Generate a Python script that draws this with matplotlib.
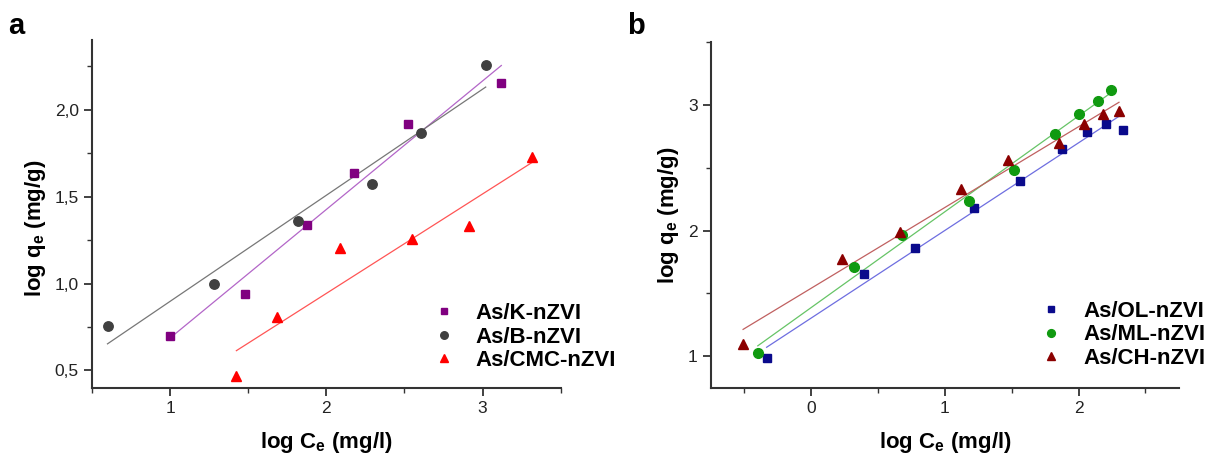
import numpy as np
import matplotlib.pyplot as plt
from matplotlib.ticker import MultipleLocator, FuncFormatter

plt.rcParams['font.family'] = ['Liberation Sans', 'DejaVu Sans']
plt.rcParams['mathtext.fontset'] = 'custom'
plt.rcParams['mathtext.rm'] = 'Liberation Sans'
plt.rcParams['mathtext.bf'] = 'Liberation Sans:bold'

# panel a data (log Ce, log qe)
k_x = [1.00, 1.48, 1.873, 2.178, 2.52, 3.12]
k_y = [0.698, 0.94, 1.335, 1.637, 1.92, 2.156]
b_x = [0.599, 1.282, 1.82, 2.29, 2.606, 3.02]
b_y = [0.758, 1.00, 1.358, 1.575, 1.867, 2.258]
cmc_x = [1.424, 1.685, 2.089, 2.551, 2.916, 3.315]
cmc_y = [0.467, 0.81, 1.204, 1.256, 1.329, 1.727]

# panel b data
ol_x = [-0.333, 0.394, 0.776, 1.216, 1.56, 1.874, 2.063, 2.207, 2.33]
ol_y = [0.984, 1.653, 1.862, 2.182, 2.394, 2.654, 2.789, 2.849, 2.804]
ml_x = [-0.399, 0.319, 0.681, 1.184, 1.514, 1.825, 2.006, 2.144, 2.244]
ml_y = [1.029, 1.713, 1.963, 2.239, 2.482, 2.768, 2.931, 3.032, 3.119]
ch_x = [-0.509, 0.23, 0.664, 1.121, 1.474, 1.853, 2.043, 2.184, 2.302]
ch_y = [1.098, 1.774, 1.987, 2.329, 2.564, 2.701, 2.847, 2.929, 2.952]

labels_a = ['As/K-nZVI', 'As/B-nZVI', 'As/CMC-nZVI']
labels_b = ['As/OL-nZVI', 'As/ML-nZVI', 'As/CH-nZVI']


def series(ax, x, y, marker, ms, mcolor, lcolor, label):
    ax.plot(x, y, linestyle='none', marker=marker, ms=ms, color=mcolor,
            mec=mcolor, label=label, zorder=3)
    # linear fit line over the data range
    p = np.polyfit(x, y, 1)
    xs = np.array([min(x), max(x)])
    ax.plot(xs, np.polyval(p, xs), color=lcolor, lw=0.9, zorder=2)


def style(ax):
    for s in ['top', 'right']:
        ax.spines[s].set_visible(False)
    for s in ['left', 'bottom']:
        ax.spines[s].set_linewidth(1.5)
        ax.spines[s].set_color('#333333')
    ax.tick_params(which='major', direction='out', length=6, width=1.3,
                   color='#333333', labelsize=12.5, labelcolor='#222222')
    ax.tick_params(which='minor', direction='out', length=3.5, width=1.0,
                   color='#333333')


fig = plt.figure(figsize=(12.11, 4.54), dpi=100)
ax1 = fig.add_axes([0.076, 0.146, 0.387, 0.765])
ax2 = fig.add_axes([0.587, 0.146, 0.3865, 0.761])

series(ax1, k_x, k_y, 's', 6, '#800080', '#b366c8', labels_a[0])
series(ax1, b_x, b_y, 'o', 6.8, '#404040', '#777777', labels_a[1])
series(ax1, cmc_x, cmc_y, '^', 7.5, '#ff0000', '#ff5555', labels_a[2])

series(ax2, ol_x, ol_y, 's', 6, '#0a0a8c', '#6e6ee0', labels_b[0])
series(ax2, ml_x, ml_y, 'o', 7, '#109a10', '#66c466', labels_b[1])
series(ax2, ch_x, ch_y, '^', 7.8, '#8b0000', '#c06060', labels_b[2])

ax1.set_xlim(0.5, 3.5)
ax1.set_ylim(0.4, 2.4)
ax1.xaxis.set_major_locator(MultipleLocator(1))
ax1.xaxis.set_minor_locator(MultipleLocator(0.5))
ax1.yaxis.set_major_locator(MultipleLocator(0.5))
ax1.yaxis.set_minor_locator(MultipleLocator(0.25))
ax1.yaxis.set_major_formatter(FuncFormatter(lambda v, p: f'{v:.1f}'.replace('.', ',')))

ax2.set_xlim(-0.75, 2.75)
ax2.set_ylim(0.75, 3.5)
ax2.xaxis.set_major_locator(MultipleLocator(1))
ax2.xaxis.set_minor_locator(MultipleLocator(0.5))
ax2.yaxis.set_major_locator(MultipleLocator(1))
ax2.yaxis.set_minor_locator(MultipleLocator(0.5))

for ax, lx, ly in [(ax1, -0.094, 0.46), (ax2, -0.064, 0.50)]:
    style(ax)
    ax.set_xlabel('log C$_\\mathbf{e}$ (mg/l)', fontsize=16, fontweight='bold', labelpad=10)
    ax.set_ylabel('log q$_\\mathbf{e}$ (mg/g)', fontsize=16, fontweight='bold')
    ax.yaxis.set_label_coords(lx, ly)

leg_kw = dict(frameon=False, loc='center left', borderpad=0, handlelength=1,
              handletextpad=0.94, labelspacing=0.12, markerscale=0.8,
              prop={'size': 16, 'weight': 'bold'}, borderaxespad=0)
ax1.legend(bbox_to_anchor=(0.727, 0.146), **leg_kw)
ax2.legend(bbox_to_anchor=(0.704, 0.153), **leg_kw)

fig.text(0.007, 0.925, 'a', fontsize=21, fontweight='bold')
fig.text(0.518, 0.925, 'b', fontsize=21, fontweight='bold')

fig.savefig('out.png', dpi=100)
